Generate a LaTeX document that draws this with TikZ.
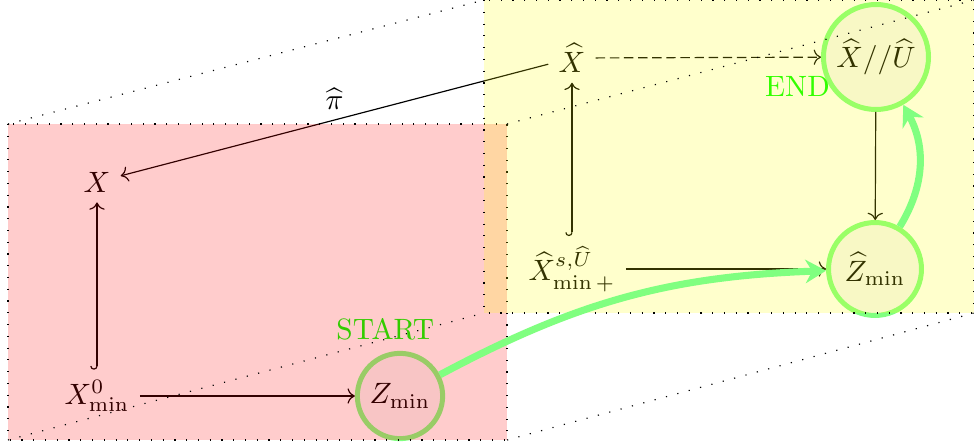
\documentclass[tikz,border=0pt]{standalone}
\usepackage{amssymb}
\usepackage{amsmath}
\usepackage{tikz}
\usetikzlibrary{arrows.meta, positioning, calc}
\definecolor{pathgreen} {RGB}{128,255,128}
\definecolor{labelgreen}{RGB}{0,  255,  0}
\definecolor{zonered}   {RGB}{255,  0,  0}
\definecolor{zoneyellow}{RGB}{255,255,  0}

\tikzset{
	state/.style={circle, draw=pathgreen, line width=1.7pt, fill=black!3, inner sep=0pt},
	flow/.style={draw=pathgreen, line width=2.4pt, -{Stealth[length=7pt,width=8pt]}},
	zone/.style={draw=black, line width=0.4pt, dash pattern=on 0.4pt off 3.6pt, fill opacity=0.2},
	guide/.style={draw=black, line width=0.4pt, dash pattern=on 0.4pt off 3.6pt}
}

\begin{document}
\begin{tikzpicture}[x=0.34pt,y=-0.34pt]
	\useasboundingbox (0,0) rectangle (974,447);
	\node (X) at (97,182) {$X$};
	\node (Xmin) at (97,396) {$X^0_{\min}$};
	\node[state, minimum size=29pt] (Zmin) at (400,396) {$Z_{\min}$};
	\node (Xhat) at (572,58) {$\widehat{X}$};
	\node (Xhatmin) at (572,269) {$\widehat{X}^{s,\widehat{U}}_{\min+}$};
	\node[state, minimum size=31.6pt] (Zhat) at (875,269) {$\widehat{Z}_{\min}$};
	\node[state, minimum size=35.7pt] (XUhat) at (876,57) {$\widehat{X}//\widehat{U}$};
	\draw[{Hooks[right]}->] (Xmin) -- (X);
	\draw[{Hooks[right]}->] (Xhatmin) -- (Xhat);
	\draw[->] (Xmin) -- (Zmin);
	\draw[->] (Xhat) -- node[above] {$\widehat{\pi}$} (X);
	\draw[->, dash pattern=on 3.2pt off 1.6pt] (Xhat) -- (XUhat);
	\draw[->] (Xhatmin) -- (Zhat);
	\draw[->] (XUhat) -- (Zhat);
	\node[labelgreen, above=0pt of Zmin, xshift=-5pt] (start) {START};
	\node[labelgreen, anchor=east] (end) at ($(XUhat.south west)+(3,-9)$) {END};
	\coordinate (rA) at (8,124);   \coordinate (rB) at (507,440);
	\coordinate (yA) at (484,0);   \coordinate (yB) at (974,313);
	\draw[zone, fill=zonered] (rA) rectangle (rB);
	\draw[zone, fill=zoneyellow] (yA) rectangle (yB);
	\draw[guide] (rA) -- (yA);
	\draw[guide] (rA -| rB) -- (yA -| yB);
	\draw[guide] (rA |- rB) -- (yA |- yB);
	\draw[guide] (rB) -- (yB);
	\draw[flow] (Zmin) to[bend left=13] (Zhat);
	\draw[flow] (Zhat) to[bend right=30] (XUhat);
\end{tikzpicture}
\end{document}
